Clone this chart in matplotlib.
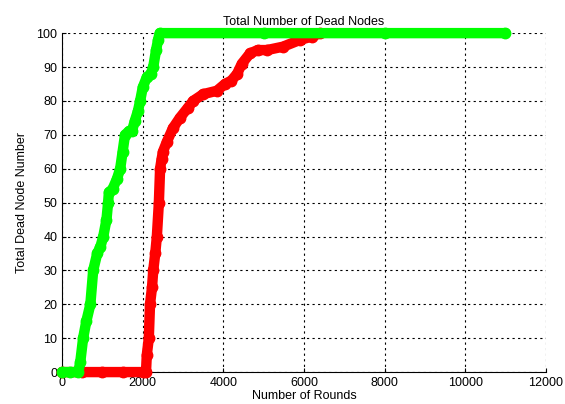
import numpy as np
import matplotlib
matplotlib.use('Agg')
from matplotlib import pyplot as plt

plt.rcParams['font.family'] = ['Liberation Sans', 'DejaVu Sans']

# rounds / dead nodes
green_rounds = [0, 200, 400, 450, 520, 600, 700, 770, 870, 950, 1020, 1100, 1140, 1160, 1250,
                1360, 1440, 1500, 1560, 1650, 1730, 1800, 1880, 1935, 2000, 2100, 2200,
                2260, 2330, 2380, 2420, 5000, 8000, 11000]
green_dead = [0, 0, 0, 3, 10, 15, 20, 30, 35, 37, 40, 45, 50, 53, 54,
              57, 60, 65, 70, 71, 71, 74, 77, 80, 84, 87, 88,
              90, 95, 98, 100, 100, 100, 100]

red_rounds = [0, 500, 1000, 1500, 2000, 2080, 2100, 2150, 2180, 2230, 2260, 2310, 2350,
              2400, 2430, 2470, 2500, 2600, 2750, 2920, 3120, 3250, 3500, 3840, 4040,
              4200, 4340, 4460, 4660, 4850, 5080, 5480, 5900, 6200, 6400]
red_dead = [0, 0, 0, 0, 0, 0, 5, 10, 20, 25, 30, 35, 40,
            50, 60, 63, 65, 68, 72, 75, 78, 80, 82, 83, 85,
            86, 88, 91, 94, 95, 95, 96, 98, 99, 100]

fig = plt.figure(figsize=(5.65, 4.04), dpi=100)
ax = fig.add_axes([0.110, 0.079, 0.856, 0.839])

ax.plot(red_rounds, red_dead, color='#ff0000', lw=7.5, marker='o', ms=7.5,
        solid_capstyle='round', solid_joinstyle='round', clip_on=False, zorder=3)
ax.plot(green_rounds, green_dead, color='#00ff00', lw=7.5, marker='o', ms=7.5,
        solid_capstyle='round', solid_joinstyle='round', clip_on=False, zorder=4)

ax.set_xlim(0, 12000)
ax.set_ylim(0, 100)
ax.set_xticks(np.arange(0, 12001, 2000))
ax.set_yticks(np.arange(0, 101, 10))
ax.grid(True, color='black', linestyle=(0, (2, 3)), linewidth=0.8)
ax.set_axisbelow(True)
ax.spines['top'].set_visible(False)
ax.spines['right'].set_visible(False)
ax.tick_params(direction='in', labelsize=9, length=3)

ax.set_title('Total Number of Dead Nodes', fontsize=9, pad=6)
ax.set_xlabel('Number of Rounds', fontsize=9, labelpad=1)
ax.set_ylabel('Total Dead Node Number', fontsize=9, labelpad=6)

fig.savefig('out.png', dpi=100)
